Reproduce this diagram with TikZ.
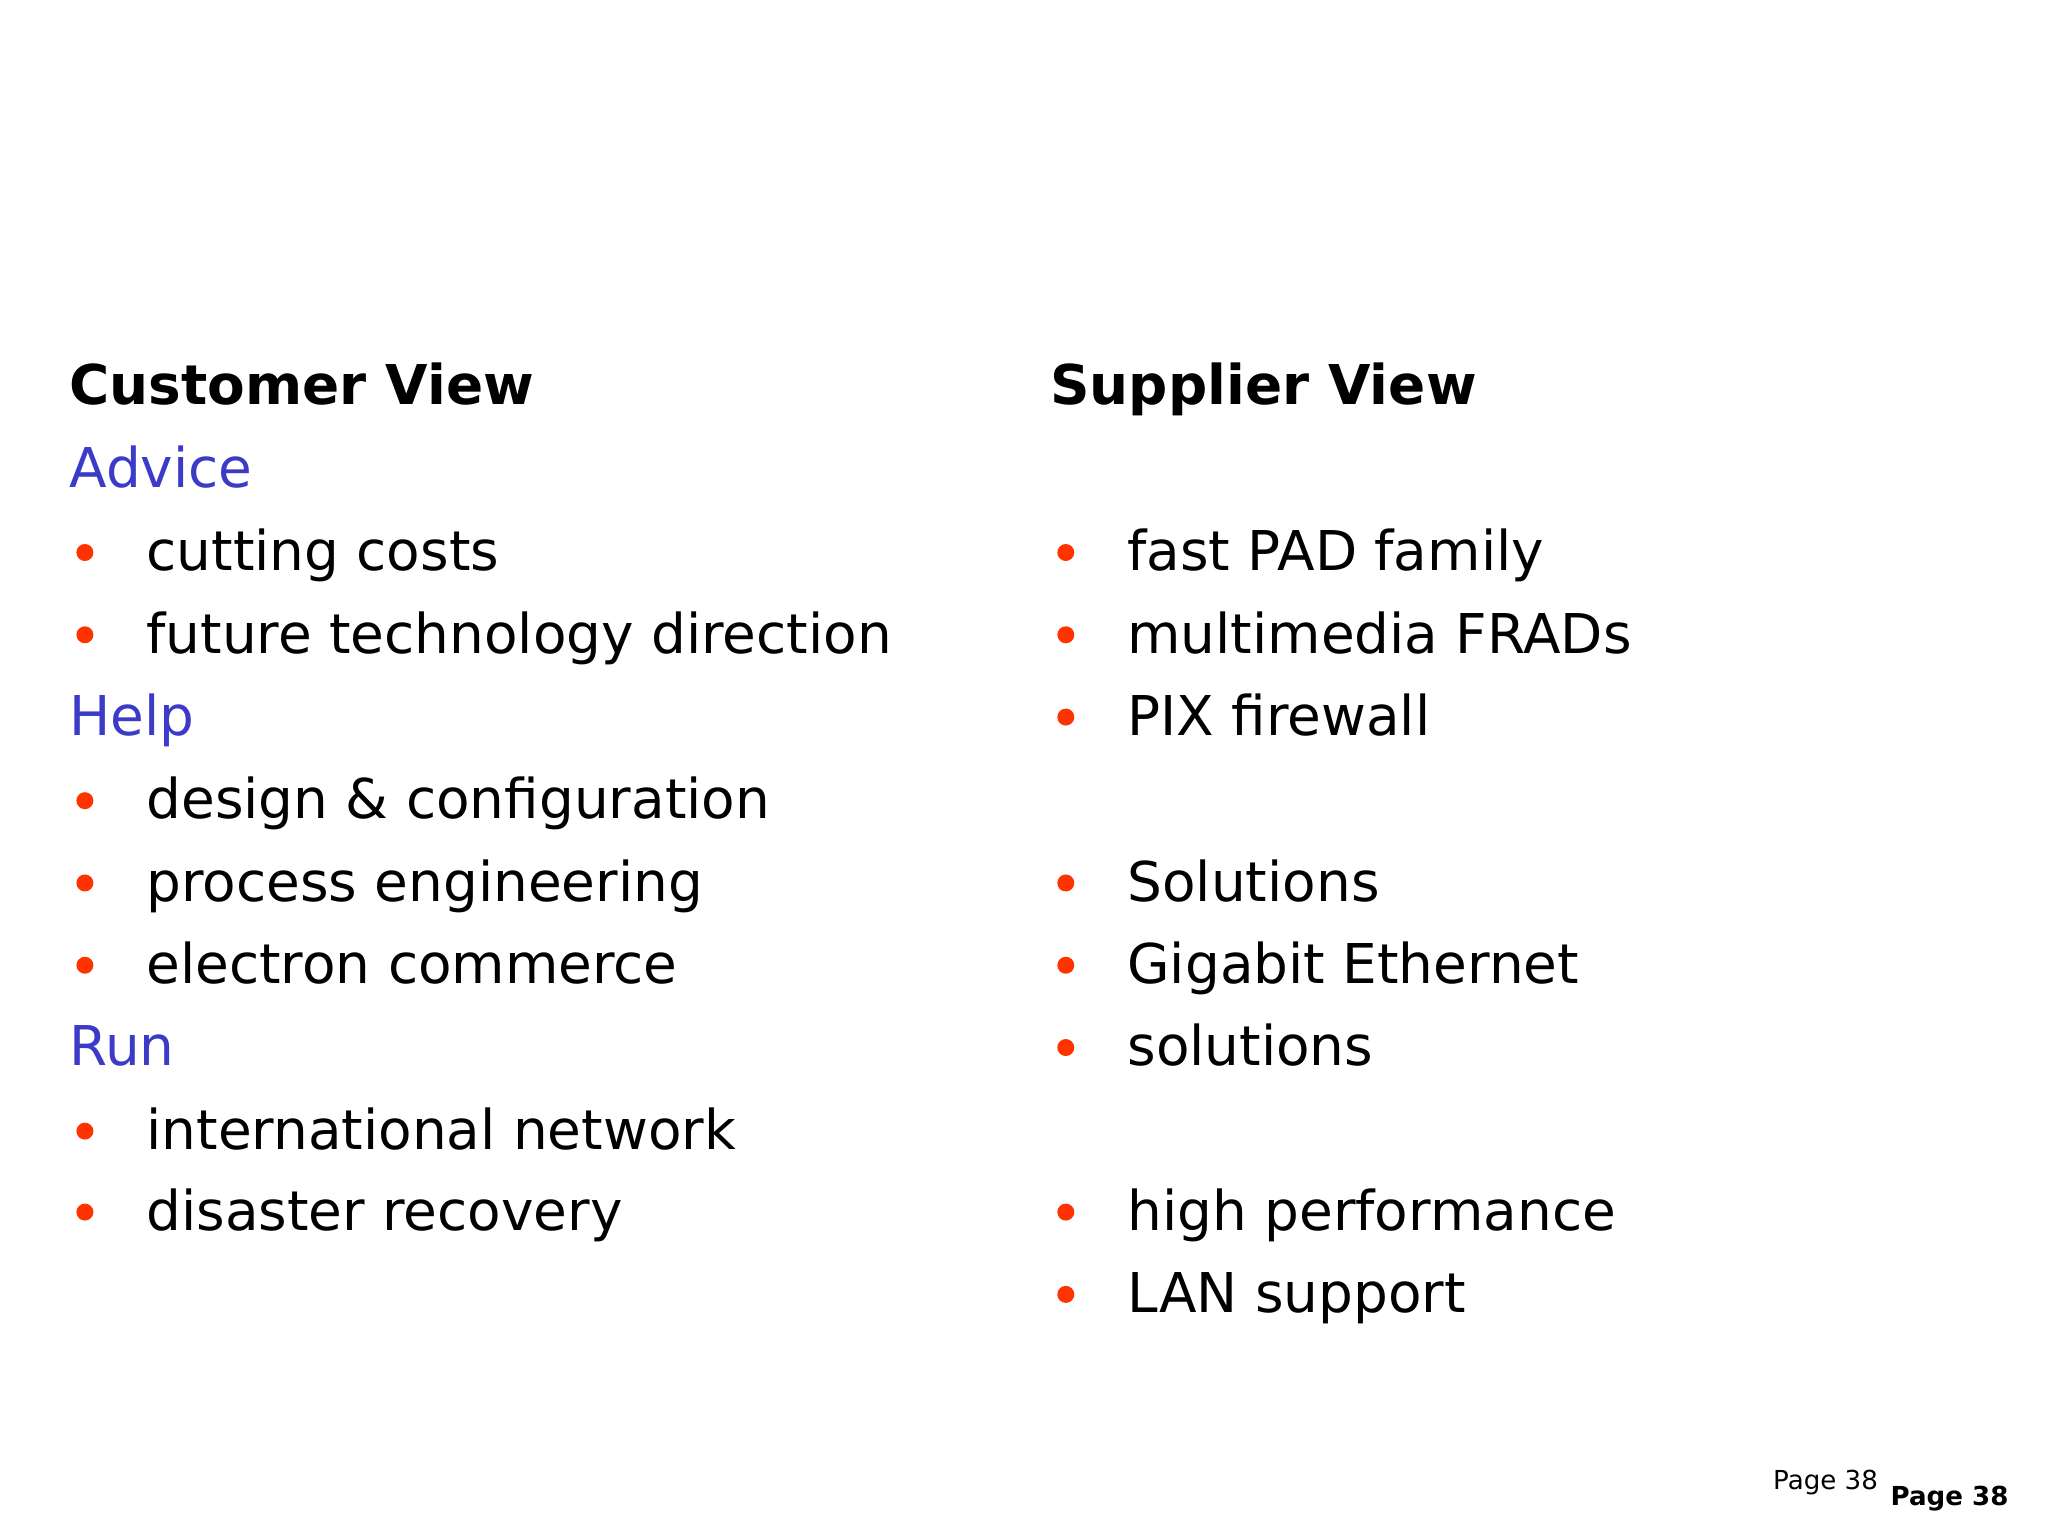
\documentclass[tikz,border=0pt]{standalone}
\usepackage{fontspec}
\setmainfont{DejaVu Sans}
\definecolor{hblue}{HTML}{3B3BC8}
\definecolor{bul}{HTML}{FF3300}
\begin{document}
\begin{tikzpicture}[x=1pt,y=-1pt,
  txt/.style={anchor=base west,inner sep=0pt,font=\fontsize{42}{50}\selectfont},
  hd/.style={txt,font=\fontsize{42}{50}\selectfont\bfseries},
  cat/.style={txt,text=hblue}]
\useasboundingbox (0,0) rectangle (1568,1176);
\newcommand\bitem[4]{\fill[bul] (#1+12,#3-14) circle (6.5);\node[txt] (#4) at (#1+59,#3) {#2};}
\node[hd] (ch) at (53,310) {Customer View};
\node[hd] (sh) at (804,310) {Supplier View};
\node[cat] (adv) at (53,373) {Advice};
\bitem{53}{cutting costs}{437}{l1}
\bitem{53}{future technology direction}{500}{l2}
\node[cat] (help) at (53,563) {Help};
\bitem{53}{design \& configuration}{627}{l3}
\bitem{53}{process engineering}{690}{l4}
\bitem{53}{electron commerce}{753}{l5}
\node[cat] (run) at (53,816) {Run};
\bitem{53}{international network}{880}{l6}
\bitem{53}{disaster recovery}{942}{l7}
\bitem{804}{fast PAD family}{437}{r1}
\bitem{804}{multimedia FRADs}{500}{r2}
\bitem{804}{PIX firewall}{563}{r3}
\bitem{804}{Solutions}{690}{r4}
\bitem{804}{Gigabit Ethernet}{753}{r5}
\bitem{804}{solutions}{816}{r6}
\bitem{804}{high performance}{942}{r7}
\bitem{804}{LAN support}{1005}{r8}
\node[anchor=base east,inner sep=0pt,font=\fontsize{20}{24}\selectfont] (p1) at (1438,1140) {Page 38};
\node[anchor=base east,inner sep=0pt,font=\fontsize{20}{24}\selectfont\bfseries] (p2) at (1538,1153) {Page 38};
\end{tikzpicture}
\end{document}
